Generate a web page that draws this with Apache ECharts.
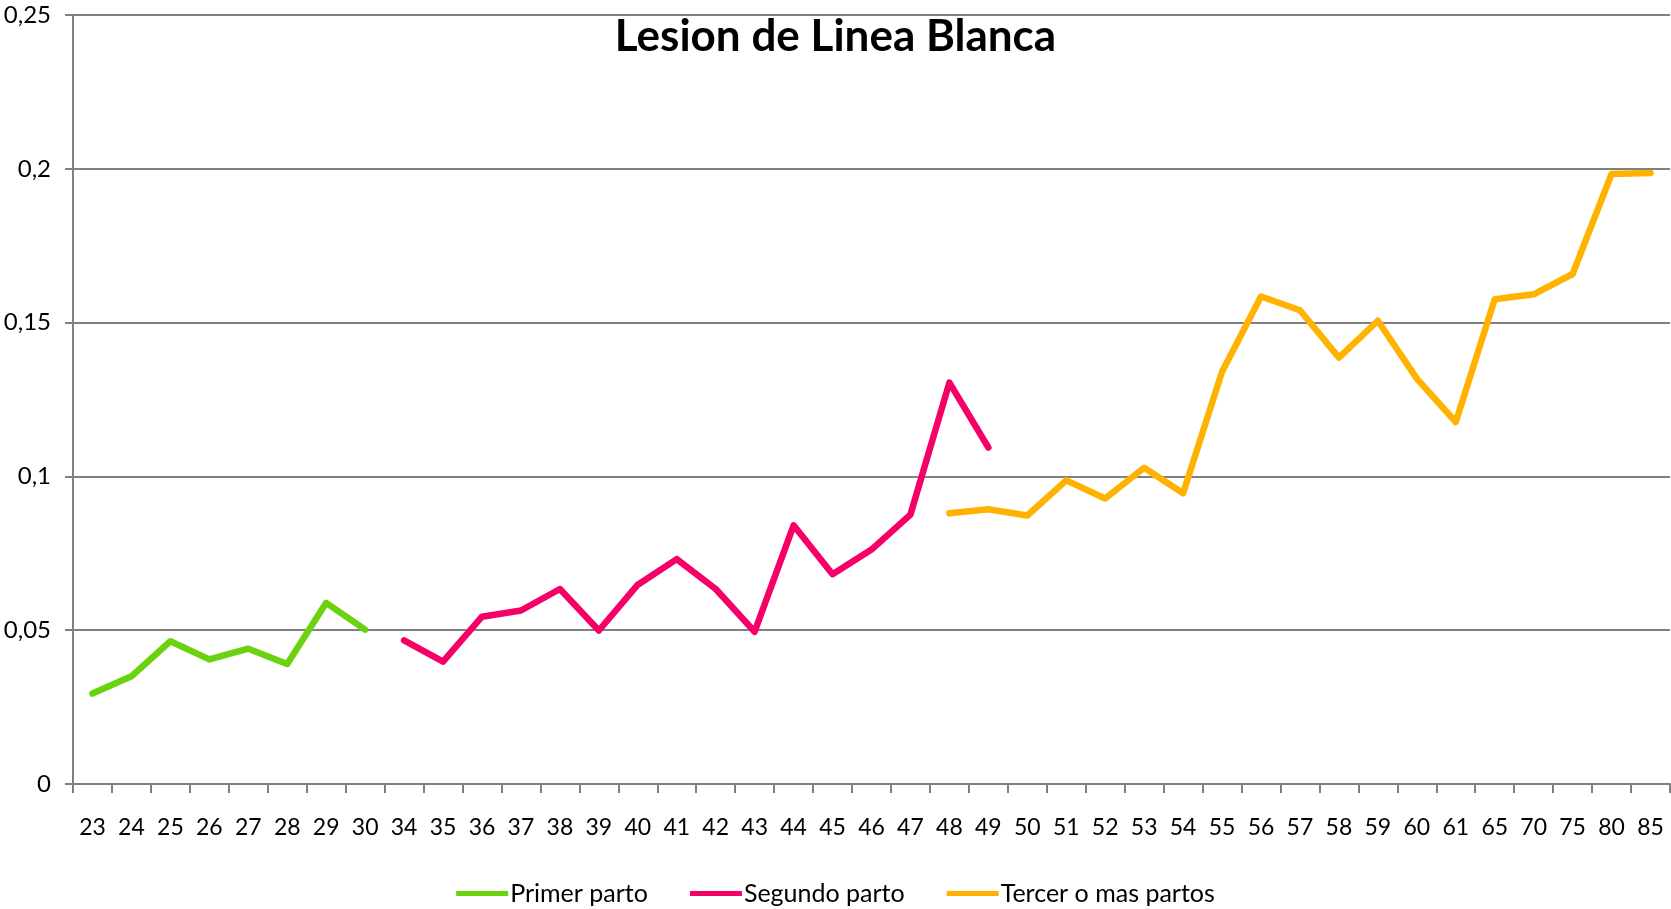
<!DOCTYPE html>
<html>
<head>
<meta charset="utf-8">
<script src="https://cdn.jsdelivr.net/npm/echarts@6/dist/echarts.min.js"></script>
<style>
html,body{margin:0;padding:0;background:#fff;}
#chart{width:1671px;height:909px;}
</style>
</head>
<body>
<div id="chart"></div>
<script>
var categories = ['23','24','25','26','27','28','29','30','34','35','36','37','38','39','40','41','42','43','44','45','46','47','48','49','50','51','52','53','54','55','56','57','58','59','60','61','65','70','75','80','85'];
var primerParto = [0.0294,0.0350,0.0464,0.0405,0.0440,0.0390,0.0589,0.0502];
var segundoParto = [0.0467,0.0398,0.0544,0.0564,0.0634,0.0499,0.0648,0.0731,0.0634,0.0495,0.0841,0.0682,0.0762,0.0876,0.1305,0.1094];
var tercerParto = [0.0880,0.0893,0.0873,0.0987,0.0928,0.1028,0.0945,0.1340,0.1585,0.1540,0.1386,0.1506,0.1318,0.1177,0.1576,0.1592,0.1658,0.1983,0.1986];
var yTicks = ['0','0,05','0,1','0,15','0,2','0,25'];

function place(values, startCat) {
  var out = categories.map(function(){ return null; });
  var s = categories.indexOf(startCat);
  values.forEach(function(v, i){ out[s + i] = v; });
  return out;
}

var FONT = 'Lato, "Open Sans", sans-serif';
var chart = echarts.init(document.getElementById('chart'));
var lineBase = function(name, color, data){
  return {
    name: name, type: 'line', data: data, showSymbol: false, symbol: 'none',
    connectNulls: false, animation: false,
    lineStyle: {color: color, width: 6.5, cap: 'round', join: 'round'},
    itemStyle: {color: color}
  };
};
chart.setOption({
  backgroundColor: '#ffffff',
  animation: false,
  title: {
    text: 'Lesion de Linea Blanca', left: 'center', top: 10,
    textStyle: {fontFamily: FONT, fontWeight: 'bold', fontSize: 44, color: '#000'}
  },
  legend: {
    bottom: -2, left: 'center', icon: 'rect', itemWidth: 52, itemHeight: 5, itemGap: 42,
    textStyle: {fontFamily: FONT, fontSize: 25, color: '#000', padding: [0,0,0,-3]},
    data: ['Primer parto','Segundo parto','Tercer o mas partos']
  },
  grid: {left: 73, right: 1, top: 15, bottom: 125, containLabel: false},
  xAxis: {
    type: 'category', data: categories, boundaryGap: true,
    axisLine: {lineStyle: {color: '#808080', width: 2}},
    axisTick: {show: true, length: 9, lineStyle: {color: '#808080', width: 2}},
    axisLabel: {fontFamily: FONT, fontSize: 23, color: '#000', margin: 32, interval: 0}
  },
  yAxis: {
    type: 'value', min: 0, max: 0.25, interval: 0.05,
    axisLine: {show: true, lineStyle: {color: '#808080', width: 2}},
    axisTick: {show: true, length: 8, lineStyle: {color: '#808080', width: 2}},
    splitLine: {show: true, lineStyle: {color: '#808080', width: 2}},
    axisLabel: {fontFamily: FONT, fontSize: 24, color: '#000', margin: 22,
      formatter: function(v){ return yTicks[Math.round(v / 0.05)]; }}
  },
  series: [
    lineBase('Primer parto', '#6ad20f', place(primerParto, '23')),
    lineBase('Segundo parto', '#f60068', place(segundoParto, '34')),
    lineBase('Tercer o mas partos', '#ffb300', place(tercerParto, '48'))
  ]
});
</script>
</body>
</html>
